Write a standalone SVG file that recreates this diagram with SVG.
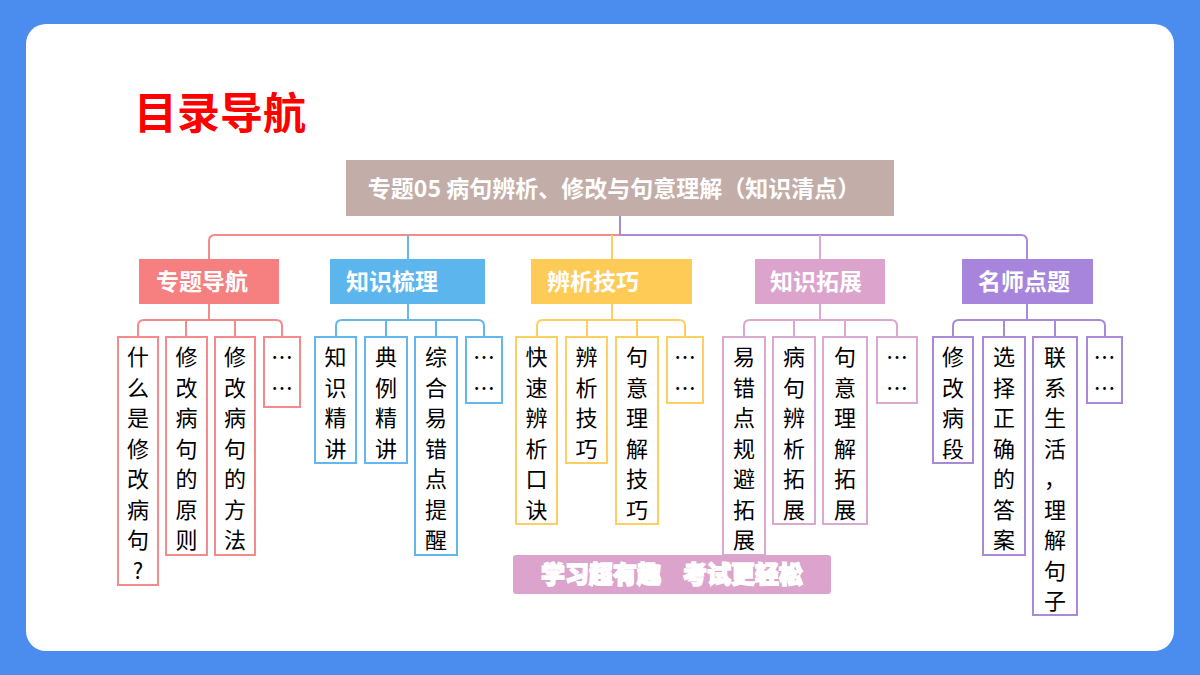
<svg xmlns="http://www.w3.org/2000/svg" width="1200" height="675" viewBox="0 0 1200 675">
<style>
.t{font-family:"Noto Sans CJK SC","Noto Sans",sans-serif}
.b{font-weight:bold;fill:#fff;font-size:23px;text-anchor:middle}
.c{font-size:22px;fill:#000;text-anchor:middle}
.ln{fill:none;stroke-width:2}
.k{fill:#fff;stroke-width:2}
.r{stroke:#f5898b}.u{stroke:#64b6ee}.y{stroke:#fdcf60}.p{stroke:#dba8cf}.v{stroke:#a98ad9}
</style>
<rect width="1200" height="675" fill="#4b8def"/>
<rect x="26" y="24" width="1148" height="627" rx="20" fill="#fff"/>
<text x="134" y="129" class="t" font-size="43" fill="#ff0000" font-weight="bold">目录导航</text>
<g id="connectors">
<path class="ln r" d="M620 216V235H215Q209 235 209 241V259"/>
<path class="ln u" d="M408 235V259"/>
<path class="ln y" d="M612 235V259"/>
<path class="ln v" d="M620 216V235H1021Q1027 235 1027 241V259"/>
<path class="ln p" d="M820 235V259"/>
<path class="ln r" d="M209 304V320M138 337V326Q138 320 144 320H276Q282 320 282 326V337M186 320V337M235 320V337"/>
<path class="ln u" d="M408 304V320M336 337V326Q336 320 342 320H478Q484 320 484 326V337M386 320V337M436 320V337"/>
<path class="ln y" d="M612 304V320M537 337V326Q537 320 543 320H679Q685 320 685 326V337M587 320V337M637 320V337"/>
<path class="ln p" d="M820 304V320M744 337V326Q744 320 750 320H891Q897 320 897 326V337M794 320V337M845 320V337"/>
<path class="ln v" d="M1027 304V320M953 337V326Q953 320 959 320H1099Q1105 320 1105 326V337M1004 320V337M1055 320V337"/>
</g>
<g id="root"><rect x="346" y="160" width="548" height="56" fill="#c2ada8"/><text x="614" y="197" class="t b" font-size="23">专题05 病句辨析、修改与句意理解（知识清点）</text></g>
<g id="b1"><rect x="139" y="259" width="140" height="45" fill="#f67f80"/><text x="202" y="290" class="t b">专题导航</text></g>
<g id="b2"><rect x="330" y="259" width="155" height="45" fill="#5db5ee"/><text x="392" y="290" class="t b">知识梳理</text></g>
<g id="b3"><rect x="531" y="259" width="161" height="45" fill="#fecb57"/><text x="593" y="290" class="t b">辨析技巧</text></g>
<g id="b4"><rect x="755" y="259" width="130" height="45" fill="#dca3cd"/><text x="816" y="290" class="t b">知识拓展</text></g>
<g id="b5"><rect x="962" y="259" width="131" height="45" fill="#a885dc"/><text x="1024" y="290" class="t b">名师点题</text></g>

<g id="c1a"><rect class="k r" x="118" y="337" width="40" height="248"/><text class="t c"><tspan x="138" y="365">什</tspan><tspan x="138" dy="30.5">么</tspan><tspan x="138" dy="30.5">是</tspan><tspan x="138" dy="30.5">修</tspan><tspan x="138" dy="30.5">改</tspan><tspan x="138" dy="30.5">病</tspan><tspan x="138" dy="30.5">句</tspan><tspan x="138" dy="30.5">?</tspan></text></g>
<g id="c1b"><rect class="k r" x="166" y="337" width="41" height="218"/><text class="t c"><tspan x="186.5" y="365">修</tspan><tspan x="186.5" dy="30.5">改</tspan><tspan x="186.5" dy="30.5">病</tspan><tspan x="186.5" dy="30.5">句</tspan><tspan x="186.5" dy="30.5">的</tspan><tspan x="186.5" dy="30.5">原</tspan><tspan x="186.5" dy="30.5">则</tspan></text></g>
<g id="c1c"><rect class="k r" x="215" y="337" width="40" height="218"/><text class="t c"><tspan x="235" y="365">修</tspan><tspan x="235" dy="30.5">改</tspan><tspan x="235" dy="30.5">病</tspan><tspan x="235" dy="30.5">句</tspan><tspan x="235" dy="30.5">的</tspan><tspan x="235" dy="30.5">方</tspan><tspan x="235" dy="30.5">法</tspan></text></g>
<g id="c1d"><rect class="k r" x="264" y="337" width="36" height="70"/><text class="t c"><tspan x="282" y="365">…</tspan><tspan x="282" dy="30.5">…</tspan></text></g>

<g id="c2a"><rect class="k u" x="315" y="337" width="41" height="126"/><text class="t c"><tspan x="335.5" y="365">知</tspan><tspan x="335.5" dy="30.5">识</tspan><tspan x="335.5" dy="30.5">精</tspan><tspan x="335.5" dy="30.5">讲</tspan></text></g>
<g id="c2b"><rect class="k u" x="365" y="337" width="42" height="126"/><text class="t c"><tspan x="386" y="365">典</tspan><tspan x="386" dy="30.5">例</tspan><tspan x="386" dy="30.5">精</tspan><tspan x="386" dy="30.5">讲</tspan></text></g>
<g id="c2c"><rect class="k u" x="415" y="337" width="42" height="218"/><text class="t c"><tspan x="436" y="365">综</tspan><tspan x="436" dy="30.5">合</tspan><tspan x="436" dy="30.5">易</tspan><tspan x="436" dy="30.5">错</tspan><tspan x="436" dy="30.5">点</tspan><tspan x="436" dy="30.5">提</tspan><tspan x="436" dy="30.5">醒</tspan></text></g>
<g id="c2d"><rect class="k u" x="466" y="337" width="36" height="66"/><text class="t c"><tspan x="484" y="365">…</tspan><tspan x="484" dy="30.5">…</tspan></text></g>

<g id="c3a"><rect class="k y" x="516" y="337" width="41" height="187"/><text class="t c"><tspan x="536.5" y="365">快</tspan><tspan x="536.5" dy="30.5">速</tspan><tspan x="536.5" dy="30.5">辨</tspan><tspan x="536.5" dy="30.5">析</tspan><tspan x="536.5" dy="30.5">口</tspan><tspan x="536.5" dy="30.5">诀</tspan></text></g>
<g id="c3b"><rect class="k y" x="566" y="337" width="41" height="126"/><text class="t c"><tspan x="586.5" y="365">辨</tspan><tspan x="586.5" dy="30.5">析</tspan><tspan x="586.5" dy="30.5">技</tspan><tspan x="586.5" dy="30.5">巧</tspan></text></g>
<g id="c3c"><rect class="k y" x="616" y="337" width="42" height="187"/><text class="t c"><tspan x="637" y="365">句</tspan><tspan x="637" dy="30.5">意</tspan><tspan x="637" dy="30.5">理</tspan><tspan x="637" dy="30.5">解</tspan><tspan x="637" dy="30.5">技</tspan><tspan x="637" dy="30.5">巧</tspan></text></g>
<g id="c3d"><rect class="k y" x="667" y="337" width="36" height="66"/><text class="t c"><tspan x="685" y="365">…</tspan><tspan x="685" dy="30.5">…</tspan></text></g>

<g id="c4a"><rect class="k p" x="723" y="337" width="42" height="218"/><text class="t c"><tspan x="744" y="365">易</tspan><tspan x="744" dy="30.5">错</tspan><tspan x="744" dy="30.5">点</tspan><tspan x="744" dy="30.5">规</tspan><tspan x="744" dy="30.5">避</tspan><tspan x="744" dy="30.5">拓</tspan><tspan x="744" dy="30.5">展</tspan></text></g>
<g id="c4b"><rect class="k p" x="773" y="337" width="42" height="187"/><text class="t c"><tspan x="794" y="365">病</tspan><tspan x="794" dy="30.5">句</tspan><tspan x="794" dy="30.5">辨</tspan><tspan x="794" dy="30.5">析</tspan><tspan x="794" dy="30.5">拓</tspan><tspan x="794" dy="30.5">展</tspan></text></g>
<g id="c4c"><rect class="k p" x="823" y="337" width="44" height="187"/><text class="t c"><tspan x="845" y="365">句</tspan><tspan x="845" dy="30.5">意</tspan><tspan x="845" dy="30.5">理</tspan><tspan x="845" dy="30.5">解</tspan><tspan x="845" dy="30.5">拓</tspan><tspan x="845" dy="30.5">展</tspan></text></g>
<g id="c4d"><rect class="k p" x="877" y="337" width="40" height="66"/><text class="t c"><tspan x="897" y="365">…</tspan><tspan x="897" dy="30.5">…</tspan></text></g>

<g id="c5a"><rect class="k v" x="933" y="337" width="40" height="126"/><text class="t c"><tspan x="953" y="365">修</tspan><tspan x="953" dy="30.5">改</tspan><tspan x="953" dy="30.5">病</tspan><tspan x="953" dy="30.5">段</tspan></text></g>
<g id="c5b"><rect class="k v" x="983" y="337" width="42" height="218"/><text class="t c"><tspan x="1004" y="365">选</tspan><tspan x="1004" dy="30.5">择</tspan><tspan x="1004" dy="30.5">正</tspan><tspan x="1004" dy="30.5">确</tspan><tspan x="1004" dy="30.5">的</tspan><tspan x="1004" dy="30.5">答</tspan><tspan x="1004" dy="30.5">案</tspan></text></g>
<g id="c5c"><rect class="k v" x="1033" y="337" width="44" height="278"/><text class="t c"><tspan x="1055" y="365">联</tspan><tspan x="1055" dy="30.5">系</tspan><tspan x="1055" dy="30.5">生</tspan><tspan x="1055" dy="30.5">活</tspan><tspan x="1055" dy="30.5">，</tspan><tspan x="1055" dy="30.5">理</tspan><tspan x="1055" dy="30.5">解</tspan><tspan x="1055" dy="30.5">句</tspan><tspan x="1055" dy="30.5">子</tspan></text></g>
<g id="c5d"><rect class="k v" x="1087" y="337" width="35" height="66"/><text class="t c"><tspan x="1104.5" y="365">…</tspan><tspan x="1104.5" dy="30.5">…</tspan></text></g>

<g id="banner"><rect x="513" y="555" width="318" height="39" rx="3" fill="#dca3cd"/><text x="672" y="583" class="t" font-size="24" font-weight="900" fill="#fff" stroke="#fff" stroke-width="1.5" text-anchor="middle" xml:space="preserve">学习超有趣    考试更轻松</text></g>
</svg>
